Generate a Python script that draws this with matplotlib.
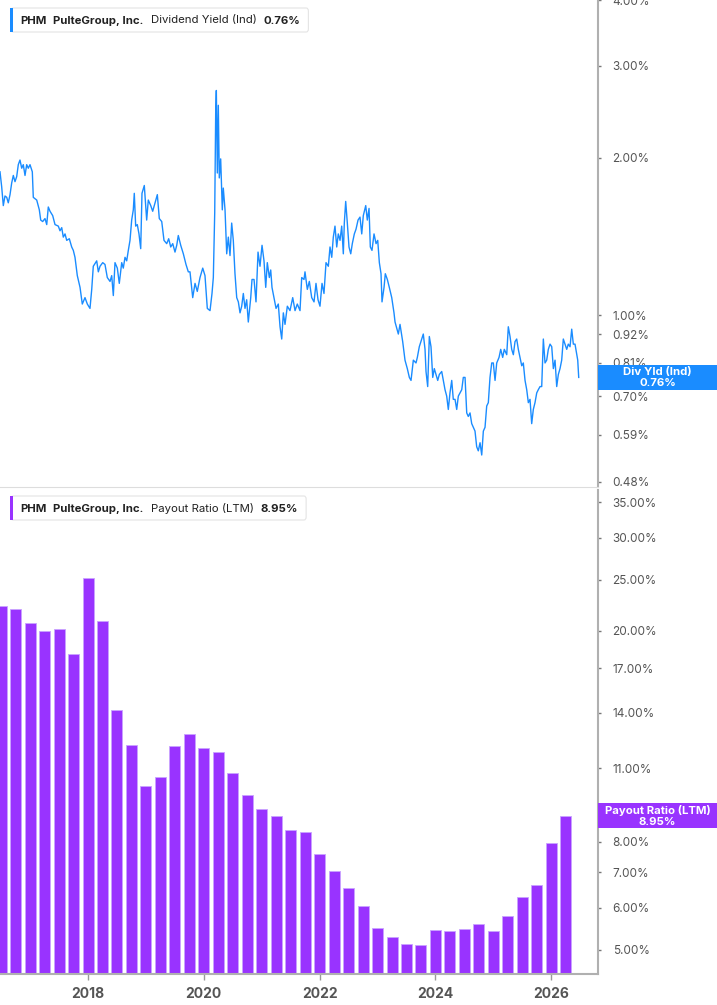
import numpy as np
import matplotlib
matplotlib.use("Agg")
import matplotlib.pyplot as plt
from matplotlib.patches import Rectangle, FancyBboxPatch
from matplotlib.ticker import FixedLocator, NullLocator, FuncFormatter

plt.rcParams['font.family'] = ['Inter', 'DejaVu Sans']

# dividend yield (indicated), %
yield_dates = [
    2016.480, 2016.509, 2016.537, 2016.566, 2016.596, 2016.623, 2016.653, 2016.682, 2016.710, 2016.739,
    2016.768, 2016.796, 2016.825, 2016.855, 2016.882, 2016.912, 2016.941, 2016.969, 2016.998, 2017.038,
    2017.055, 2017.114, 2017.159, 2017.183, 2017.217, 2017.257, 2017.287, 2017.314, 2017.344, 2017.390,
    2017.430, 2017.487, 2017.516, 2017.546, 2017.573, 2017.603, 2017.632, 2017.677, 2017.718, 2017.746,
    2017.775, 2017.815, 2017.862, 2017.901, 2017.948, 2017.988, 2018.034, 2018.064, 2018.091, 2018.150,
    2018.178, 2018.207, 2018.254, 2018.293, 2018.333, 2018.380, 2018.409, 2018.437, 2018.466, 2018.506,
    2018.540, 2018.582, 2018.609, 2018.639, 2018.668, 2018.696, 2018.725, 2018.754, 2018.782, 2018.799,
    2018.823, 2018.851, 2018.880, 2018.910, 2018.932, 2018.972, 2019.013, 2019.041, 2019.083, 2019.117,
    2019.157, 2019.197, 2019.231, 2019.273, 2019.312, 2019.359, 2019.393, 2019.428, 2019.463, 2019.502,
    2019.532, 2019.559, 2019.601, 2019.646, 2019.692, 2019.732, 2019.761, 2019.808, 2019.848, 2019.887,
    2019.934, 2019.981, 2020.020, 2020.060, 2020.107, 2020.141, 2020.164, 2020.188, 2020.205, 2020.216,
    2020.233, 2020.250, 2020.267, 2020.291, 2020.319, 2020.336, 2020.366, 2020.395, 2020.423, 2020.452,
    2020.481, 2020.509, 2020.538, 2020.568, 2020.596, 2020.625, 2020.654, 2020.682, 2020.711, 2020.740,
    2020.768, 2020.810, 2020.832, 2020.867, 2020.901, 2020.936, 2020.970, 2021.005, 2021.039, 2021.069,
    2021.096, 2021.131, 2021.155, 2021.177, 2021.212, 2021.247, 2021.286, 2021.316, 2021.345, 2021.373,
    2021.402, 2021.442, 2021.488, 2021.535, 2021.575, 2021.614, 2021.661, 2021.690, 2021.730, 2021.747,
    2021.787, 2021.822, 2021.863, 2021.903, 2021.937, 2021.972, 2022.006, 2022.041, 2022.075, 2022.110,
    2022.150, 2022.179, 2022.209, 2022.236, 2022.265, 2022.295, 2022.322, 2022.352, 2022.381, 2022.409,
    2022.426, 2022.450, 2022.478, 2022.507, 2022.537, 2022.564, 2022.599, 2022.628, 2022.663, 2022.697,
    2022.727, 2022.754, 2022.796, 2022.823, 2022.853, 2022.875, 2022.904, 2022.939, 2022.974, 2023.003,
    2023.031, 2023.060, 2023.077, 2023.112, 2023.134, 2023.169, 2023.203, 2023.245, 2023.284, 2023.302,
    2023.359, 2023.388, 2023.434, 2023.474, 2023.514, 2023.549, 2023.578, 2023.618, 2023.664, 2023.687,
    2023.721, 2023.763, 2023.790, 2023.820, 2023.837, 2023.866, 2023.894, 2023.923, 2023.953, 2023.980,
    2024.010, 2024.039, 2024.067, 2024.108, 2024.136, 2024.165, 2024.194, 2024.222, 2024.251, 2024.281,
    2024.308, 2024.338, 2024.367, 2024.395, 2024.424, 2024.454, 2024.481, 2024.511, 2024.540, 2024.567,
    2024.597, 2024.626, 2024.654, 2024.683, 2024.712, 2024.740, 2024.770, 2024.799, 2024.827, 2024.856,
    2024.885, 2024.913, 2024.942, 2024.972, 2024.999, 2025.029, 2025.058, 2025.098, 2025.127, 2025.161,
    2025.189, 2025.231, 2025.258, 2025.288, 2025.317, 2025.345, 2025.374, 2025.403, 2025.431, 2025.460,
    2025.490, 2025.517, 2025.547, 2025.576, 2025.604, 2025.633, 2025.662, 2025.690, 2025.719, 2025.749,
    2025.776, 2025.806, 2025.835, 2025.863, 2025.892, 2025.921, 2025.949, 2025.979, 2026.008, 2026.036,
    2026.065, 2026.094, 2026.122, 2026.151, 2026.180, 2026.208, 2026.237, 2026.267, 2026.294, 2026.324,
    2026.353, 2026.381, 2026.410, 2026.440, 2026.457, 2026.474,
]
yield_values = [
    1.88, 1.76, 1.62, 1.69, 1.68, 1.64, 1.70, 1.79, 1.85, 1.80,
    1.84, 1.94, 1.98, 1.91, 1.94, 1.85, 1.94, 1.91, 1.94, 1.88,
    1.68, 1.66, 1.59, 1.52, 1.51, 1.53, 1.49, 1.61, 1.58, 1.55,
    1.49, 1.48, 1.45, 1.47, 1.41, 1.43, 1.39, 1.40, 1.35, 1.33,
    1.29, 1.19, 1.13, 1.05, 1.08, 1.05, 1.03, 1.12, 1.24, 1.27,
    1.21, 1.24, 1.26, 1.25, 1.18, 1.16, 1.19, 1.09, 1.26, 1.23,
    1.15, 1.26, 1.23, 1.29, 1.27, 1.33, 1.39, 1.52, 1.59, 1.71,
    1.48, 1.49, 1.43, 1.34, 1.71, 1.77, 1.52, 1.66, 1.62, 1.58,
    1.64, 1.70, 1.53, 1.51, 1.39, 1.37, 1.40, 1.35, 1.37, 1.32,
    1.36, 1.42, 1.36, 1.31, 1.25, 1.21, 1.21, 1.08, 1.15, 1.11,
    1.18, 1.23, 1.19, 1.03, 1.02, 1.10, 1.18, 1.57, 2.45, 2.69,
    1.87, 2.52, 1.83, 1.99, 1.59, 1.75, 1.59, 1.31, 1.41, 1.30,
    1.50, 1.39, 1.20, 1.08, 1.06, 1.01, 1.04, 1.10, 1.03, 1.07,
    0.97, 1.08, 1.17, 1.17, 1.06, 1.32, 1.24, 1.36, 1.27, 1.13,
    1.26, 1.18, 1.22, 1.13, 1.08, 1.03, 1.05, 0.95, 0.90, 1.01,
    0.96, 1.04, 1.02, 1.08, 1.02, 1.05, 1.02, 1.18, 1.17, 1.21,
    1.12, 1.16, 1.08, 1.06, 1.15, 1.07, 1.04, 1.15, 1.10, 1.26,
    1.24, 1.35, 1.29, 1.41, 1.48, 1.35, 1.43, 1.39, 1.48, 1.31,
    1.50, 1.65, 1.50, 1.35, 1.31, 1.37, 1.43, 1.46, 1.52, 1.54,
    1.43, 1.55, 1.62, 1.52, 1.60, 1.35, 1.33, 1.43, 1.37, 1.39,
    1.26, 1.20, 1.06, 1.13, 1.20, 1.17, 1.13, 1.08, 1.01, 0.97,
    0.92, 0.96, 0.89, 0.82, 0.79, 0.76, 0.75, 0.82, 0.81, 0.83,
    0.87, 0.90, 0.92, 0.86, 0.78, 0.73, 0.91, 0.87, 0.76, 0.79,
    0.77, 0.75, 0.77, 0.78, 0.75, 0.72, 0.70, 0.66, 0.71, 0.75,
    0.69, 0.69, 0.66, 0.70, 0.71, 0.72, 0.76, 0.76, 0.65, 0.64,
    0.65, 0.62, 0.61, 0.60, 0.56, 0.55, 0.57, 0.54, 0.60, 0.61,
    0.67, 0.68, 0.76, 0.81, 0.81, 0.75, 0.81, 0.83, 0.86, 0.83,
    0.86, 0.84, 0.95, 0.91, 0.86, 0.84, 0.89, 0.90, 0.86, 0.83,
    0.80, 0.81, 0.75, 0.72, 0.68, 0.69, 0.62, 0.66, 0.68, 0.71,
    0.72, 0.73, 0.73, 0.90, 0.81, 0.82, 0.86, 0.88, 0.87, 0.79,
    0.82, 0.73, 0.77, 0.79, 0.82, 0.90, 0.88, 0.86, 0.88, 0.87,
    0.94, 0.88, 0.88, 0.84, 0.82, 0.76,
]

# payout ratio (LTM), %, quarterly from 2016 Q2 to 2026 Q1
payout_dates = np.arange(2016.5, 2026.3, 0.25)
payout_values = [
    22.3, 22.0, 20.7, 20.0, 20.2, 18.1, 25.2, 20.9, 14.2, 12.2,
    10.2, 10.6, 12.1, 12.8, 12.0, 11.8, 10.8, 9.8, 9.24, 8.94,
    8.40, 8.36, 7.59, 7.05, 6.54, 6.06, 5.49, 5.28, 5.13, 5.11,
    5.45, 5.43, 5.48, 5.59, 5.43, 5.79, 6.29, 6.63, 7.95, 8.95,
]

yield_ticks = [4.0, 3.0, 2.0, 1.0, 0.92, 0.81, 0.70, 0.59, 0.48]
payout_ticks = [35, 30, 25, 20, 17, 14, 11, 8, 7, 6, 5]
year_ticks = [2018, 2020, 2022, 2024, 2026]

blue = '#1a8cff'
purple = '#9933ff'
W, H = 717, 1005

fig = plt.figure(figsize=(W / 100, H / 100), dpi=100)
ax1 = fig.add_axes([0, 1 - 487 / H, 598 / W, 487 / H])
ax2 = fig.add_axes([0, 1 - 974 / H, 598 / W, (974 - 490) / H])

pct = FuncFormatter(lambda v, p: f"{v:.2f}%")

ax1.plot(yield_dates, yield_values, color=blue, lw=1.0)
ax1.set_yscale('log')
ax1.set_ylim(0.469, 4.007)

ax2.bar(payout_dates, np.array(payout_values) - 1, bottom=1, width=0.19,
        color=purple, edgecolor='#c9a3ff', linewidth=0.6)
ax2.set_yscale('log')
ax2.set_ylim(4.5, 36.9)

for ax, ticks in ((ax1, yield_ticks), (ax2, payout_ticks)):
    ax.set_xlim(2016.48, 2026.807)
    ax.yaxis.set_major_locator(FixedLocator(ticks))
    ax.yaxis.set_minor_locator(NullLocator())
    ax.yaxis.set_major_formatter(pct)
    ax.yaxis.tick_right()
    ax.tick_params(axis='y', length=2.5, width=1, color='#777', pad=8,
                   labelsize=8.5, labelcolor='#555')
    for s in ('top', 'left'):
        ax.spines[s].set_visible(False)
    ax.spines['right'].set_color('#b0b0b0')
    ax.spines['right'].set_linewidth(1.5)
    ax.set_facecolor('none')

ax1.spines['bottom'].set_color('#dddddd')
ax1.set_xticks([])
ax2.spines['bottom'].set_color('#b0b0b0')
ax2.spines['bottom'].set_linewidth(1.5)
ax2.set_xticks(year_ticks)
ax2.set_xticklabels([str(y) for y in year_ticks])
ax2.tick_params(axis='x', length=4, width=1, color='#999', pad=5,
                labelsize=10, labelcolor='#555')
for t in ax2.get_xticklabels():
    t.set_fontweight('bold')

renderer = fig.canvas.get_renderer()


def legend_box(y_top, color, parts):
    yc = 1 - (y_top + 12.5) / H
    x = 20
    for txt, bold, gap in parts:
        t = fig.text(x / W, yc, txt, fontsize=8.2, color='#222',
                     fontweight='bold' if bold else 'normal', va='center', ha='left', zorder=7)
        x += t.get_window_extent(renderer).width + gap
    x_end = x + 8
    y0 = 1 - (y_top + 24) / H
    fig.patches.append(FancyBboxPatch((11 / W, y0), (x_end - 11) / W, 24 / H,
                                      boxstyle='round,pad=0,rounding_size=0.003',
                                      transform=fig.transFigure, facecolor='white',
                                      edgecolor='#e4e4e4', linewidth=0.8, zorder=5))
    fig.patches.append(Rectangle((10 / W, y0), 3 / W, 24 / H, transform=fig.transFigure,
                                 facecolor=color, edgecolor='none', zorder=6))


legend_box(8, blue, [('PHM', True, 7), ('PulteGroup, Inc.', True, 7),
                     ('Dividend Yield (Ind)', False, 7), ('0.76%', True, 0)])
legend_box(496, purple, [('PHM', True, 7), ('PulteGroup, Inc.', True, 7),
                         ('Payout Ratio (LTM)', False, 7), ('8.95%', True, 0)])


def value_tag(ax, value, color, label):
    _, yd = ax.transData.transform((2020, value))
    yf = yd / H
    fig.patches.append(Rectangle((598 / W, yf - 12.5 / H), 1 - 598 / W, 25 / H,
                                 transform=fig.transFigure, facecolor=color,
                                 edgecolor='none', zorder=8))
    fig.text((598 + 717) / 2 / W, yf, label + '\n' + f"{value:.2f}%", color='white',
             fontsize=8.2, fontweight='bold', ha='center', va='center',
             linespacing=1.05, zorder=9)


value_tag(ax1, yield_values[-1], blue, 'Div Yld (Ind)')
value_tag(ax2, payout_values[-1], purple, 'Payout Ratio (LTM)')

fig.savefig('out.png', dpi=100)
